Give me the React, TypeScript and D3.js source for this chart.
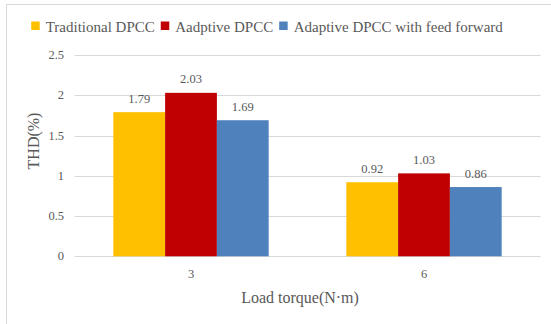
import React, { useEffect, useRef } from "react";
import * as d3 from "d3";

const categories = ["3", "6"];
const seriesNames = ["Traditional DPCC", "Aadptive DPCC", "Adaptive DPCC with feed forward"];
const seriesColors = ["#FFC000", "#C00000", "#4F81BD"];
const traditional = [1.79, 0.92];
const adaptive = [2.03, 1.03];
const adaptiveFF = [1.69, 0.86];
const yTicks = [0, 0.5, 1, 1.5, 2, 2.5];
const xTitle = "Load torque(N·m)";
const yTitle = "THD(%)";

const W = 551;
const H = 324;
const FONT = "Liberation Serif";
const TEXT = "#595959";

export default function App() {
  const ref = useRef<SVGSVGElement>(null);

  useEffect(() => {
    const svg = d3.select(ref.current);
    svg.selectAll("*").remove();

    const plot = { left: 74.5, right: 540.5, top: 55, bottom: 256.3 };
    const series = [traditional, adaptive, adaptiveFF];

    // chart frame
    svg.append("rect")
      .attr("x", 6.5).attr("y", 4.5)
      .attr("width", W + 20).attr("height", H + 20)
      .attr("fill", "#fff").attr("stroke", "#D9D9D9");

    const x = d3.scaleBand<string>().domain(categories).range([plot.left, plot.right]).paddingInner(0).paddingOuter(0);
    const y = d3.scaleLinear().domain([0, 2.5]).range([plot.bottom, plot.top]);
    const bw = x.bandwidth();
    const groupW = bw * (3 / 4.5);
    const barW = groupW / 3;

    // gridlines
    svg.append("g").selectAll("line").data(yTicks).join("line")
      .attr("x1", plot.left).attr("x2", plot.right)
      .attr("y1", (d) => Math.round(y(d)) + 0.5).attr("y2", (d) => Math.round(y(d)) + 0.5)
      .attr("stroke", "#D9D9D9").attr("stroke-width", 1);

    const txt = (sel: any, size: number) =>
      sel.style("font-family", FONT).style("font-size", `${size}px`).attr("fill", TEXT);

    // y tick labels
    txt(svg.append("g").selectAll("text").data(yTicks).join("text")
      .attr("x", 64).attr("y", (d: number) => y(d) + 4)
      .attr("text-anchor", "end"), 12.5)
      .text((d: number) => String(d));

    // bars and data labels
    series.forEach((vals, si) => {
      const g = svg.append("g");
      g.selectAll("rect").data(vals).join("rect")
        .attr("x", (_, i) => (x(categories[i]) as number) + (bw - groupW) / 2 + si * barW)
        .attr("y", (d) => y(d))
        .attr("width", barW)
        .attr("height", (d) => y(0) - y(d))
        .attr("fill", seriesColors[si]);
      txt(g.selectAll("text").data(vals).join("text")
        .attr("x", (_: number, i: number) => (x(categories[i]) as number) + (bw - groupW) / 2 + si * barW + barW / 2)
        .attr("y", (d: number) => y(d) - 9.5)
        .attr("text-anchor", "middle"), 12.5)
        .text((d: number) => d.toFixed(2));
    });

    // x category labels
    txt(svg.append("g").selectAll("text").data(categories).join("text")
      .attr("x", (d: string) => (x(d) as number) + bw / 2)
      .attr("y", 278)
      .attr("text-anchor", "middle"), 12.5)
      .text((d: string) => d);

    // axis titles
    txt(svg.append("text")
      .attr("x", 300).attr("y", 303)
      .attr("text-anchor", "middle"), 16)
      .text(xTitle);
    txt(svg.append("text")
      .attr("transform", "translate(39,141) rotate(-90)")
      .attr("text-anchor", "middle"), 16)
      .text(yTitle);

    // legend, centred above the plot
    const legend = svg.append("g");
    const items = seriesNames.map((name, i) => {
      const t = txt(legend.append("text").attr("y", 32), 15).text(name);
      const r = legend.append("rect")
        .attr("y", 21.5).attr("width", 8.5).attr("height", 8.5)
        .attr("fill", seriesColors[i]);
      return { t, r, w: (t.node() as SVGTextElement).getComputedTextLength() };
    });
    const sq = 8.5, gapIn = 6, gapOut = 6;
    const total = items.reduce((s, it) => s + sq + gapIn + it.w, 0) + gapOut * (items.length - 1);
    let cx = 267 - total / 2;
    items.forEach((it) => {
      it.r.attr("x", cx);
      it.t.attr("x", cx + sq + gapIn);
      cx += sq + gapIn + it.w + gapOut;
    });
  }, []);

  return (
    <svg ref={ref} width={W} height={H} style={{ position: "absolute", left: 0, top: 0, background: "#fff", fontFamily: FONT }} />
  );
}
